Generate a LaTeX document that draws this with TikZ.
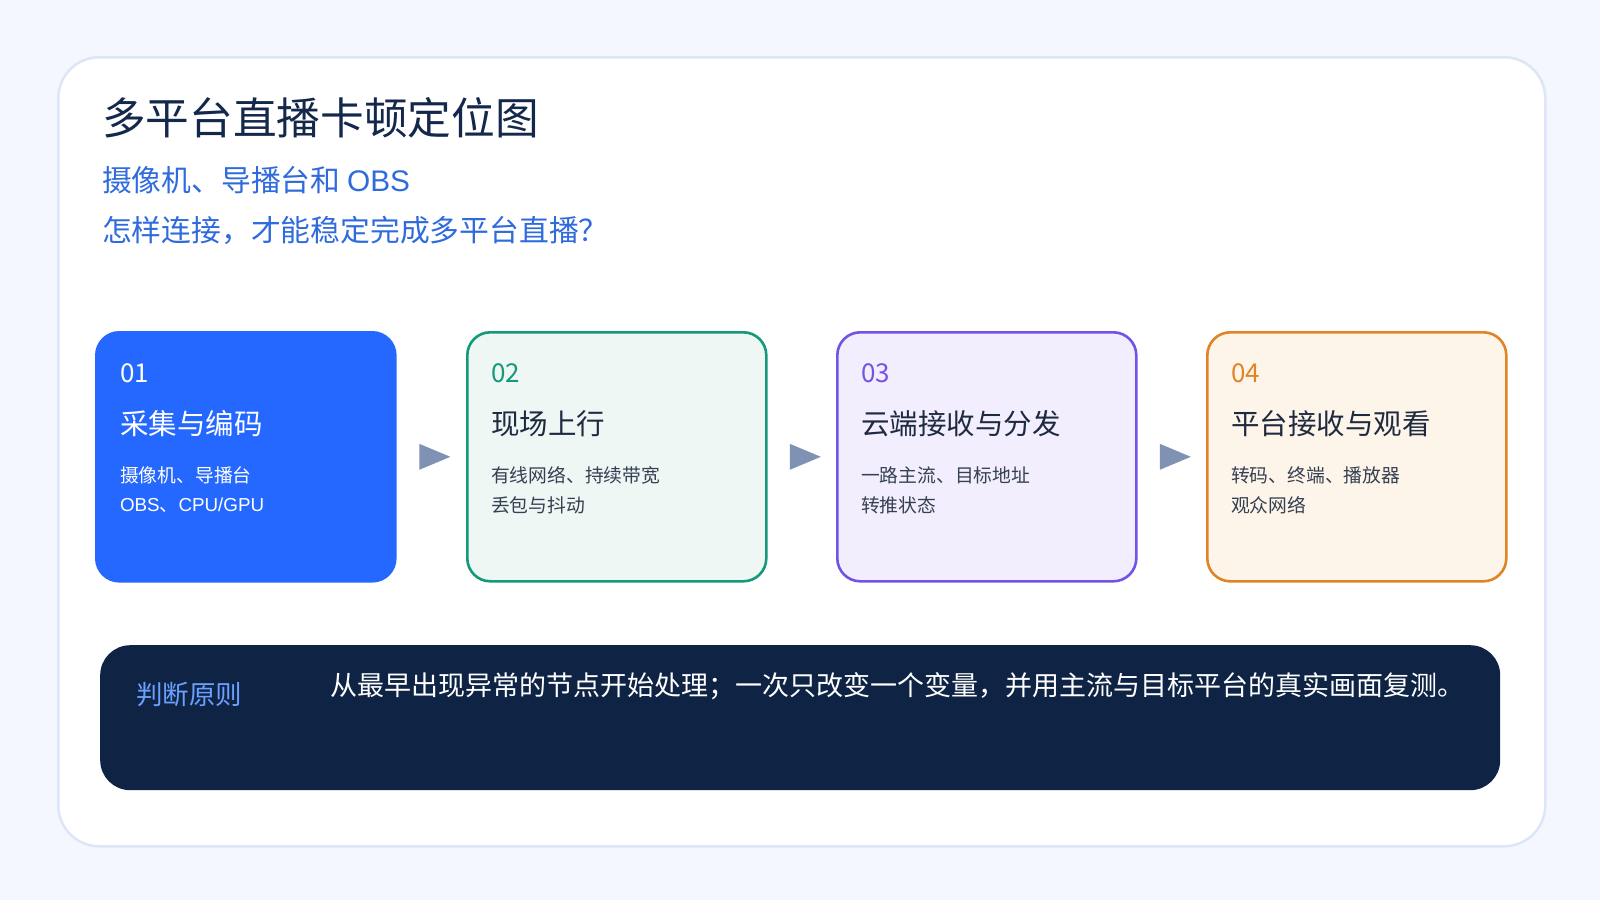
\documentclass[tikz,border=0pt]{standalone}
\usepackage{fontspec}
\setmainfont{Noto Sans CJK SC}
\newfontfamily\latinf{Liberation Sans}
\usetikzlibrary{calc}
\definecolor{bg}{HTML}{F4F8FE}
\definecolor{cardline}{HTML}{DCE6F6}
\definecolor{titlec}{HTML}{14284B}
\definecolor{subc}{HTML}{2F6BDD}
\definecolor{bluef}{HTML}{2468FF}
\definecolor{greenl}{HTML}{14997A}
\definecolor{greenf}{HTML}{EEF7F4}
\definecolor{purpl}{HTML}{7452E6}
\definecolor{purpf}{HTML}{F2EEFD}
\definecolor{orgl}{HTML}{E08427}
\definecolor{orgf}{HTML}{FEF5EA}
\definecolor{headc}{HTML}{1E2A40}
\definecolor{bodyc}{HTML}{354052}
\definecolor{arrowc}{HTML}{7F92B4}
\definecolor{navy}{HTML}{0F2444}
\definecolor{ruleblue}{HTML}{6AA0FF}
\tikzset{
  stagebox/.style={draw, line width=2.6pt, rounded corners=23pt, minimum width=299pt, minimum height=249pt, anchor=north west, inner sep=0pt},
  txt/.style={anchor=west, inner sep=0pt, outer sep=0pt},
  numtxt/.style={txt, font=\fontsize{26}{30}\selectfont},
  headtxt/.style={txt, font=\fontsize{28.5}{34}\selectfont},
  bodytxt/.style={txt, font=\fontsize{18.8}{29.5}\selectfont, align=left},
  flowarrow/.style={fill=arrowc, draw=none},
}
\newcommand{\flowtri}[2]{%
  \coordinate (m) at ($(#1.east)!0.5!(#2.west)$);
  \fill[flowarrow] ($(m)+(-12,-13)$) -- ($(m)+(19,0)$) -- ($(m)+(-12,13)$) -- cycle;
}
\begin{document}
\begin{tikzpicture}[x=1pt,y=-1pt]
\fill[bg] (0,0) rectangle (1600,900);
\useasboundingbox (0,0) rectangle (1600,900);
\node[draw=cardline, fill=white, line width=2.5pt, rounded corners=41pt, minimum width=1487pt, minimum height=789pt, anchor=north west, inner sep=0pt] (card) at (57,56) {};
\node[txt, text=titlec, font=\fontsize{43.7}{50}\selectfont] (title) at (102,118) {多平台直播卡顿定位图};
\node[txt, text=subc, font=\fontsize{29.8}{34}\selectfont] (sub1) at (102,180) {摄像机、导播台和 {\latinf OBS}};
\node[txt, text=subc, font=\fontsize{29.8}{34}\selectfont] (sub2) at (102,230) {怎样连接，才能稳定完成多平台直播？};
% stage boxes
\node[stagebox, draw=bluef, fill=bluef] (b1) at (95,331) {};
\node[stagebox, draw=greenl, fill=greenf] (b2) at (466,331) {};
\node[stagebox, draw=purpl, fill=purpf] (b3) at (836,331) {};
\node[stagebox, draw=orgl, fill=orgf] (b4) at (1206,331) {};
% texts box 1
\node[numtxt, text=white] (n1) at (120,373) {01};
\node[headtxt, text=white] (h1) at (120,424) {采集与编码};
\node[bodytxt, text=white] (t1a) at (120,475) {摄像机、导播台};
\node[bodytxt, text=white] (t1b) at (120,505) {{\latinf OBS}、{\latinf CPU/GPU}};
% box 2
\node[numtxt, text=greenl] (n2) at (491,373) {02};
\node[headtxt, text=headc] (h2) at (491,424) {现场上行};
\node[bodytxt, text=bodyc] (t2a) at (491,475) {有线网络、持续带宽};
\node[bodytxt, text=bodyc] (t2b) at (491,505) {丢包与抖动};
% box 3
\node[numtxt, text=purpl] (n3) at (861,373) {03};
\node[headtxt, text=headc] (h3) at (861,424) {云端接收与分发};
\node[bodytxt, text=bodyc] (t3a) at (861,475) {一路主流、目标地址};
\node[bodytxt, text=bodyc] (t3b) at (861,505) {转推状态};
% box 4
\node[numtxt, text=orgl] (n4) at (1231,373) {04};
\node[headtxt, text=headc] (h4) at (1231,424) {平台接收与观看};
\node[bodytxt, text=bodyc] (t4a) at (1231,475) {转码、终端、播放器};
\node[bodytxt, text=bodyc] (t4b) at (1231,505) {观众网络};
% arrows
\flowtri{b1}{b2}
\flowtri{b2}{b3}
\flowtri{b3}{b4}
% bottom bar
\node[fill=navy, draw=none, rounded corners=30pt, minimum width=1400pt, minimum height=145pt, anchor=north west, inner sep=0pt] (bar) at (100,645) {};
\node[txt, text=ruleblue, font=\fontsize{26.5}{30}\selectfont] (rule) at (136,694) {判断原则};
\node[txt, text=white, font=\fontsize{27}{30}\selectfont] (ruletext) at (330,686) {从最早出现异常的节点开始处理；一次只改变一个变量，并用主流与目标平台的真实画面复测。};
\end{tikzpicture}
\end{document}
